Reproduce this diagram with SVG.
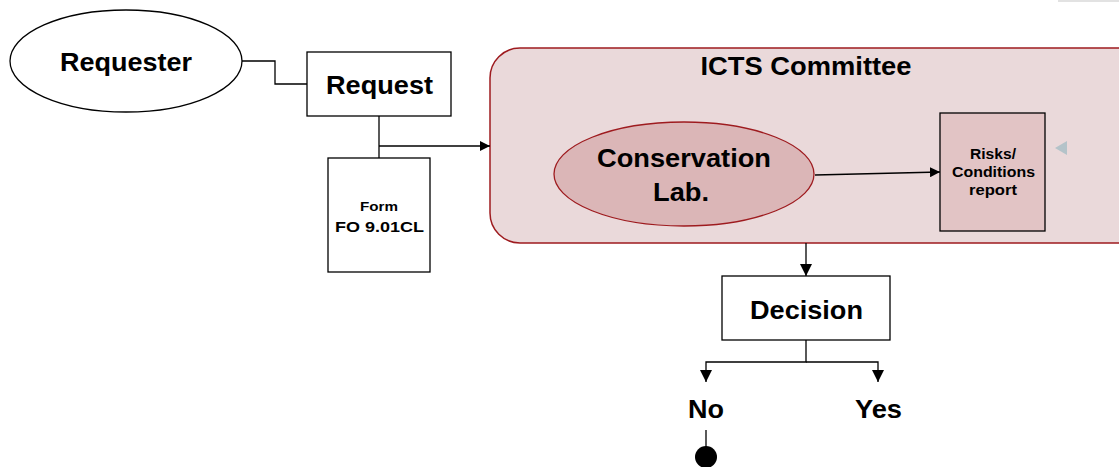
<svg xmlns="http://www.w3.org/2000/svg" width="1119" height="467" viewBox="0 0 1119 467">
<style>
text{font-family:"Liberation Sans",Arial,sans-serif;font-weight:bold;fill:#000;text-anchor:middle}
.big{font-size:26px}
.sm{font-size:15px}
.box{fill:#fff;stroke:#000;stroke-width:1.3}
.ln{fill:none;stroke:#000;stroke-width:1.3}
</style>
<defs>
<marker id="ah" viewBox="0 0 10 10" refX="10" refY="5" markerWidth="10" markerHeight="10" markerUnits="userSpaceOnUse" orient="auto">
<path d="M0,0 L10,5 L0,10 z" fill="#000"/>
</marker>
<marker id="ahv" viewBox="0 0 12 12" refX="12" refY="6" markerWidth="12" markerHeight="12" markerUnits="userSpaceOnUse" orient="auto">
<path d="M0,0 L12,6 L0,12 z" fill="#000"/>
</marker>
</defs>
<rect x="1058" y="0" width="61" height="2" fill="#e2e2e2"/>
<g id="icts">
<rect x="490" y="48" width="660" height="195" rx="30" ry="30" fill="#ead9da" stroke="#9e1b1f" stroke-width="1.5"/>
<text class="big" x="806" y="75" textLength="211" lengthAdjust="spacingAndGlyphs">ICTS Committee</text>
</g>
<g id="requester">
<ellipse cx="126" cy="61" rx="116" ry="51" fill="#fff" stroke="#000" stroke-width="1.3"/>
<text class="big" x="126" y="71" textLength="132" lengthAdjust="spacingAndGlyphs">Requester</text>
</g>
<g id="request">
<rect class="box" x="307" y="52" width="144" height="64"/>
<text class="big" x="379.5" y="94" textLength="107" lengthAdjust="spacingAndGlyphs">Request</text>
</g>
<g id="form">
<rect class="box" x="328" y="158" width="102" height="114"/>
<text class="sm" x="379" y="211" style="font-size:13.5px" textLength="38" lengthAdjust="spacingAndGlyphs">Form</text>
<text class="sm" x="379.5" y="232" textLength="89" lengthAdjust="spacingAndGlyphs">FO 9.01CL</text>
</g>
<g id="conservation">
<ellipse cx="684" cy="174" rx="130" ry="52" fill="#dbb6b7" stroke="#9e1b1f" stroke-width="1.3"/>
<text class="big" x="684" y="167" textLength="174" lengthAdjust="spacingAndGlyphs">Conservation</text>
<text class="big" x="681" y="201" textLength="56" lengthAdjust="spacingAndGlyphs">Lab.</text>
</g>
<g id="risks">
<rect x="940" y="113" width="105" height="118" fill="#e2c4c5" stroke="#000" stroke-width="1.3"/>
<text class="sm" x="993" y="159" textLength="46" lengthAdjust="spacingAndGlyphs">Risks/</text>
<text class="sm" x="993.5" y="177" textLength="83" lengthAdjust="spacingAndGlyphs">Conditions</text>
<text class="sm" x="993" y="195" textLength="48" lengthAdjust="spacingAndGlyphs">report</text>
</g>
<g id="decision">
<rect class="box" x="722" y="276" width="168" height="64"/>
<text class="big" x="806.5" y="319" textLength="113" lengthAdjust="spacingAndGlyphs">Decision</text>
</g>
<g id="no">
<text class="big" x="706" y="418" textLength="36" lengthAdjust="spacingAndGlyphs">No</text>
<circle cx="706" cy="457" r="11" fill="#000"/>
</g>
<g id="yes">
<text class="big" x="878.5" y="418" textLength="47" lengthAdjust="spacingAndGlyphs">Yes</text>
</g>
<polygon points="1055,148 1067,141 1067,155" fill="#b4c3c9"/>
<g id="connectors">
<path class="ln" d="M242,61 H275 V84 H307"/>
<path class="ln" d="M379,116 V158"/>
<path class="ln" d="M379,146 H490" marker-end="url(#ah)"/>
<path class="ln" d="M815,175 L940,172" marker-end="url(#ah)"/>
<path class="ln" d="M806,243 V276" marker-end="url(#ahv)"/>
<path class="ln" d="M806,340 V362 H706 V382" marker-end="url(#ahv)"/>
<path class="ln" d="M806,362 H878 V382" marker-end="url(#ahv)"/>
<path class="ln" d="M706,430 V448"/>
</g>
</svg>
